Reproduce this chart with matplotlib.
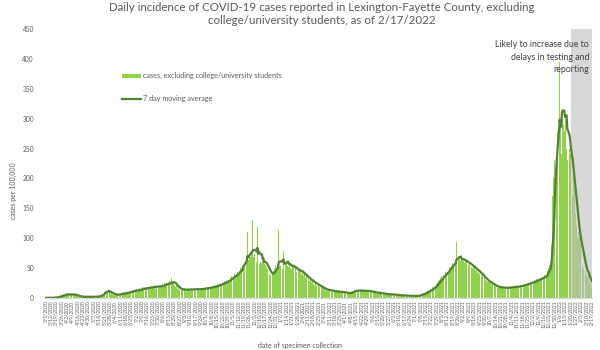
import matplotlib
matplotlib.use("Agg")
import matplotlib.pyplot as plt
import numpy as np
import pandas as pd
from matplotlib.lines import Line2D
from matplotlib.patches import Patch

plt.rcParams["font.family"] = ["Lato", "DejaVu Sans"]

# Daily reported cases, excluding college/university students (starting 3/5/2020)
mar_2020 = [0, 0, 0, 0, 0, 0, 0, 0, 0, 1, 0, 1, 0, 1, 1, 0, 2, 2, 3, 2, 4, 3, 5, 4, 6, 5, 7]
apr_2020 = [6, 5, 8, 4, 3, 7, 6, 5, 8, 6, 4, 5, 3, 6, 4, 3, 2, 3, 2, 1, 2, 3, 1, 2, 2, 1, 3, 2, 1, 2]
may_2020 = [2, 1, 2, 1, 3, 2, 1, 2, 2, 3, 2, 1, 3, 4, 3, 5, 4, 6, 7, 5, 8, 23, 9, 12, 10, 8, 11, 9, 7, 10, 8]
jun_2020 = [6, 5, 4, 7, 5, 6, 4, 5, 7, 6, 8, 5, 6, 9, 7, 8, 6, 10, 9, 7, 11, 8, 10, 12, 9, 11, 13, 10, 12, 14]
jul_2020 = [12, 15, 10, 9, 14, 16, 13, 17, 15, 18, 14, 12, 16, 19, 15, 17, 20, 16, 14, 18, 21, 17, 19, 16, 22, 18, 15, 20, 23, 19, 17]
aug_2020 = [18, 21, 17, 20, 24, 19, 22, 25, 21, 23, 27, 20, 24, 28, 22, 26, 34, 25, 23, 27, 21, 19, 22, 17, 15, 18, 13, 16, 12, 14, 13]
sep_2020 = [15, 12, 16, 14, 10, 13, 17, 14, 12, 15, 16, 11, 13, 15, 18, 14, 12, 16, 13, 15, 17, 12, 14, 16, 15, 13, 17, 14, 16, 18]
oct_2020 = [16, 14, 18, 15, 17, 20, 16, 19, 17, 21, 18, 16, 22, 19, 20, 24, 18, 22, 25, 21, 23, 27, 22, 25, 28, 24, 26, 30, 27, 29, 32]
nov_2020 = [28, 34, 36, 31, 38, 35, 40, 33, 42, 39, 44, 41, 47, 45, 50, 43, 52, 80, 55, 58, 62, 60, 66, 110, 64, 70, 72, 68, 78, 74]
dec_2020 = [130, 68, 74, 70, 66, 60, 119, 58, 97, 56, 60, 58, 62, 66, 60, 56, 60, 55, 52, 48, 46, 44, 40, 38, 42, 36, 40, 45, 48, 52, 55]
jan_2021 = [50, 54, 48, 113, 52, 54, 56, 52, 48, 78, 58, 60, 56, 62, 54, 58, 52, 56, 50, 58, 48, 54, 55, 50, 46, 52, 44, 48, 42, 50, 46]
feb_2021 = [45, 42, 40, 46, 38, 36, 40, 34, 38, 32, 30, 36, 28, 32, 27, 26, 30, 24, 25, 22, 26, 20, 23, 19, 22, 18, 20, 17]
mar_2021 = [18, 16, 15, 14, 16, 12, 13, 15, 12, 13, 11, 14, 12, 10, 13, 11, 12, 10, 9, 11, 12, 10, 9, 11, 10, 8, 12, 9, 10, 8, 9]
apr_2021 = [9, 8, 7, 9, 8, 7, 8, 10, 9, 11, 12, 10, 13, 11, 12, 14, 11, 12, 13, 10, 12, 14, 11, 13, 12, 10, 11, 13, 12, 11]
may_2021 = [12, 11, 10, 12, 9, 11, 10, 9, 8, 10, 9, 7, 8, 9, 8, 7, 9, 6, 8, 7, 6, 8, 5, 7, 6, 5, 7, 6, 5, 6, 7]
jun_2021 = [5, 6, 4, 5, 7, 4, 5, 3, 6, 4, 5, 4, 3, 5, 4, 3, 4, 5, 3, 4, 2, 4, 3, 5, 3, 4, 3, 2, 4, 3]
jul_2021 = [3, 4, 2, 5, 3, 4, 5, 6, 4, 7, 6, 8, 7, 9, 8, 10, 12, 9, 13, 11, 14, 16, 13, 18, 15, 20, 22, 19, 24, 26, 23]
aug_2021 = [28, 30, 33, 31, 36, 34, 38, 40, 37, 43, 41, 46, 48, 45, 52, 50, 55, 53, 58, 56, 60, 62, 59, 94, 66, 63, 68, 65, 62, 67, 64]
sep_2021 = [66, 62, 64, 58, 63, 60, 57, 61, 55, 58, 54, 56, 52, 50, 53, 48, 51, 46, 49, 44, 42, 45, 40, 43, 38, 36, 39, 34, 32, 33]
oct_2021 = [30, 28, 31, 26, 27, 25, 24, 26, 22, 23, 21, 20, 22, 19, 18, 20, 17, 19, 16, 18, 17, 19, 16, 18, 17, 15, 18, 16, 17, 19, 16]
nov_2021 = [18, 17, 19, 16, 18, 20, 17, 19, 18, 21, 17, 19, 20, 18, 22, 19, 21, 20, 23, 19, 22, 24, 21, 23, 25, 22, 26, 24, 27, 25]
dec_2021 = [26, 28, 25, 30, 27, 29, 32, 28, 31, 33, 30, 34, 32, 36, 33, 35, 38, 34, 37, 40, 45, 50, 60, 55, 48, 90, 140, 170, 200, 230, 355]
jan_2022 = [260, 230, 280, 290, 280, 395, 290, 240, 400, 300, 290, 280, 320, 300, 250, 230, 290, 260, 250, 240, 220, 190, 170, 200, 180, 160, 140, 120, 100, 90, 110]
feb_2022 = [100, 90, 80, 70, 55, 50, 60, 50, 45, 40, 35, 32, 38, 28, 25, 22, 18]

start_date = "2020-03-05"
end_date = "2022-02-17"
delay_start = "2022-01-21"

daily = np.concatenate([mar_2020, apr_2020, may_2020, jun_2020, jul_2020, aug_2020,
                        sep_2020, oct_2020, nov_2020, dec_2020, jan_2021, feb_2021,
                        mar_2021, apr_2021, may_2021, jun_2021, jul_2021, aug_2021,
                        sep_2021, oct_2021, nov_2021, dec_2021, jan_2022, feb_2022])
dates = pd.date_range(start_date, periods=len(daily), freq="D")
avg7 = pd.Series(daily, index=dates).rolling(7, min_periods=1).mean()

tick_dates = pd.date_range(start_date, end_date, freq="7D")
tick_labels = [f"{d.month}/{d.day}/{d.year}" for d in tick_dates]

BAR = "#92D050"
LINE = "#548235"
TXT = "#595959"

fig = plt.figure(figsize=(6, 3.5), dpi=100)
ax = fig.add_axes([0.075, 0.149, 0.912, 0.768])

half = pd.Timedelta(hours=12)
ax.bar(dates, daily, width=0.85, color=BAR, linewidth=0, zorder=2)
ax.axvspan(pd.Timestamp(delay_start) - half, pd.Timestamp(end_date) + half,
           color="#BFBFBF", alpha=0.6, lw=0, zorder=3)
ax.plot(dates, avg7.values, color=LINE, lw=1.6, zorder=4)

ax.set_xlim(dates[0] - half, pd.Timestamp(end_date) + half)
ax.set_ylim(0, 450)
ax.set_yticks(range(0, 451, 50))
ax.set_xticks(tick_dates)
ax.set_xticklabels(tick_labels, rotation=90, fontsize=3.6, color=TXT)
ax.tick_params(axis="y", length=0, labelsize=4.8, labelcolor=TXT, pad=8)
ax.tick_params(axis="x", length=0, pad=2)
for side in ("top", "right", "left"):
    ax.spines[side].set_visible(False)
ax.spines["bottom"].set_color("#D9D9D9")
ax.spines["bottom"].set_linewidth(1.0)

ax.set_ylabel("cases per 100,000", fontsize=5, color=TXT)
ax.yaxis.set_label_coords(-0.052, 0.4)

fig.text(0.537, 0.995, "Daily incidence of COVID-19 cases reported in Lexington-Fayette County, excluding\n"
         "college/university students, as of 2/17/2022",
         ha="center", va="top", fontsize=8.3, color=TXT, linespacing=1.25)

fig.text(0.982, 0.885, "Likely to increase due to\ndelays in testing and\nreporting",
         ha="right", va="top", fontsize=6.3, color="#404040", linespacing=1.5)

handles = [Patch(facecolor=BAR, edgecolor="none"),
           Line2D([0], [0], color=LINE, lw=1.6)]
leg = ax.legend(handles, ["cases, excluding college/university students", "7 day moving average"],
                loc="upper left", bbox_to_anchor=(0.135, 0.85), frameon=False,
                fontsize=5.2, labelspacing=2.2, handlelength=2.7, handleheight=0.55,
                handletextpad=0.3, borderaxespad=0)
for t in leg.get_texts():
    t.set_color(TXT)

fig.text(0.5, 0.004, "date of specimen collection", ha="center", va="bottom",
         fontsize=5, color=TXT)

fig.savefig("out.png", dpi=100)
